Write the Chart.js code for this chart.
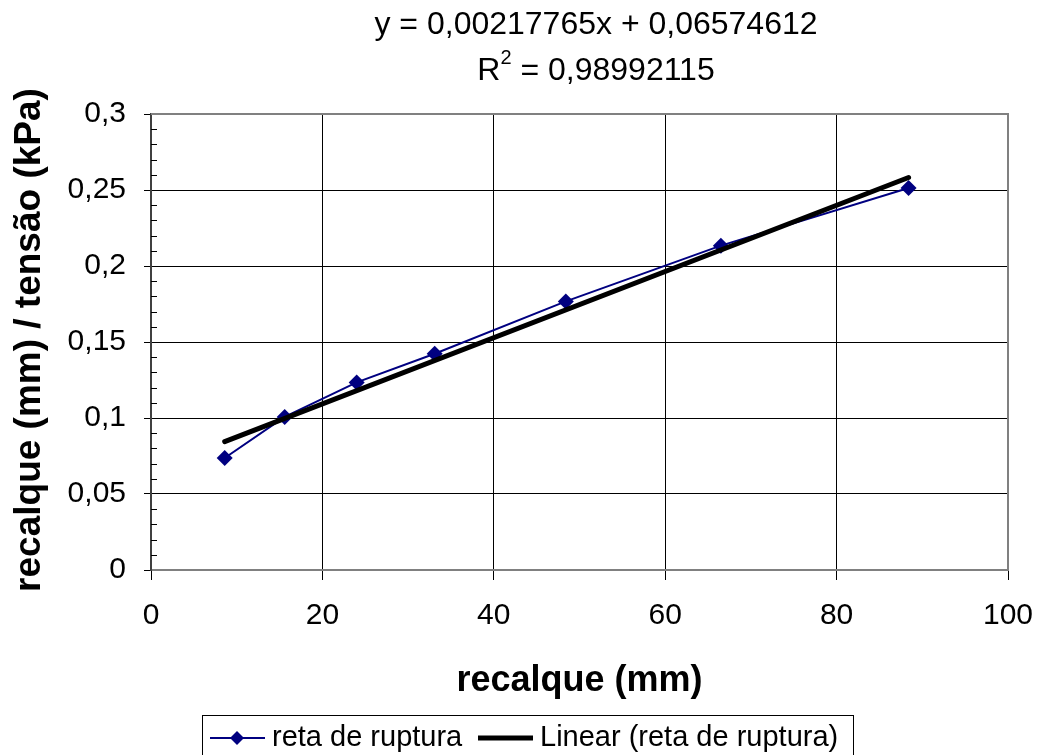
<!DOCTYPE html>
<html>
<head>
<meta charset="utf-8">
<script src="https://cdn.jsdelivr.net/npm/chart.js@4/dist/chart.umd.min.js"></script>
<style>
  html, body { margin: 0; padding: 0; background: #fff; }
  #wrap { width: 1038px; height: 755px; position: relative; }
</style>
</head>
<body>
<div id="wrap"><canvas id="chart" width="1038" height="755"></canvas></div>
<script>
// data
const recalque = [8.6, 15.6, 24.0, 33.1, 48.4, 66.5, 88.4];
const razao = [0.0737, 0.1007, 0.1234, 0.1423, 0.1767, 0.2134, 0.2513];
const xTicks = [0, 20, 40, 60, 80, 100];
const yTicks = [0, 0.05, 0.1, 0.15, 0.2, 0.25, 0.3];
const slope = 0.00217765;
const intercept = 0.06574612;
const equationText = 'y = 0,00217765x + 0,06574612';
const r2Text = ' = 0,98992115';
const seriesName = 'reta de ruptura';
const trendName = 'Linear (reta de ruptura)';

const FONT = '"Liberation Sans", Arial, sans-serif';

const points = recalque.map((x, i) => ({ x: x, y: razao[i] }));
const xMin = Math.min(...recalque), xMax = Math.max(...recalque);
const trend = [
    { x: xMin, y: slope * xMin + intercept },
    { x: xMax, y: slope * xMax + intercept }
];

function fmt(v) {
    return String(Math.round(v * 100) / 100).replace('.', ',');
}

// frame, minor ticks, equation, axis titles and legend
const decorations = {
    id: 'decorations',
    afterDraw(chart) {
        const ctx = chart.ctx;
        const a = chart.chartArea;
        const ys = chart.scales.y;
        ctx.save();

        // top / right frame
        ctx.strokeStyle = '#808080';
        ctx.lineWidth = 2;
        ctx.beginPath();
        ctx.moveTo(a.left, a.top);
        ctx.lineTo(a.right, a.top);
        ctx.lineTo(a.right, a.bottom);
        ctx.stroke();

        // minor ticks on the y axis (inside)
        ctx.strokeStyle = '#000';
        ctx.lineWidth = 1;
        for (let i = 1; i < 30; i++) {
            if (i % 5 === 0) continue;
            const py = Math.round(ys.getPixelForValue(i / 100)) + 0.5;
            ctx.beginPath();
            ctx.moveTo(a.left, py);
            ctx.lineTo(a.left + 6, py);
            ctx.stroke();
        }

        // equation
        ctx.fillStyle = '#000';
        ctx.font = '32px ' + FONT;
        ctx.textAlign = 'center';
        ctx.textBaseline = 'middle';
        const cx = 596;
        ctx.fillText(equationText, cx, 25);
        const rW = ctx.measureText('R').width;
        const restW = ctx.measureText(r2Text).width;
        ctx.font = '20px ' + FONT;
        const supW = ctx.measureText('2').width;
        const total = rW + supW + restW;
        let sx = cx - total / 2;
        ctx.textAlign = 'left';
        ctx.font = '32px ' + FONT;
        ctx.fillText('R', sx, 71);
        ctx.font = '20px ' + FONT;
        ctx.fillText('2', sx + rW, 58);
        ctx.font = '32px ' + FONT;
        ctx.fillText(r2Text, sx + rW + supW, 71);

        // axis titles
        ctx.font = 'bold 36px ' + FONT;
        ctx.textAlign = 'center';
        ctx.fillText('recalque (mm)', (a.left + a.right) / 2, 681);
        ctx.save();
        ctx.translate(30, (a.top + a.bottom) / 2 - 2);
        ctx.rotate(-Math.PI / 2);
        ctx.font = 'bold 37px ' + FONT;
        ctx.fillText('recalque (mm) / tensão (kPa)', 0, 0);
        ctx.restore();

        // legend
        ctx.strokeStyle = '#000';
        ctx.lineWidth = 1;
        ctx.strokeRect(202.5, 715.5, 651, 50);
        const ly = 738;
        const ds0 = chart.data.datasets[1];
        ctx.strokeStyle = ds0.borderColor;
        ctx.lineWidth = 2;
        ctx.beginPath();
        ctx.moveTo(210, ly);
        ctx.lineTo(265, ly);
        ctx.stroke();
        ctx.fillStyle = ds0.pointBackgroundColor;
        ctx.beginPath();
        ctx.moveTo(237, ly - 7);
        ctx.lineTo(244, ly);
        ctx.lineTo(237, ly + 7);
        ctx.lineTo(230, ly);
        ctx.closePath();
        ctx.fill();
        ctx.fillStyle = '#000';
        ctx.font = '29px ' + FONT;
        ctx.textAlign = 'left';
        ctx.fillText(seriesName, 272, ly);
        ctx.strokeStyle = '#000';
        ctx.lineWidth = 5;
        ctx.beginPath();
        ctx.moveTo(478, ly);
        ctx.lineTo(533, ly);
        ctx.stroke();
        ctx.fillText(trendName, 540, ly);

        ctx.restore();
    }
};

const ctx = document.getElementById('chart').getContext('2d');
const chart = new Chart(ctx, {
    type: 'scatter',
    data: {
        datasets: [{
            label: trendName,
            data: trend,
            showLine: true,
            borderColor: '#000000',
            borderWidth: 5,
            borderCapStyle: 'round',
            pointRadius: 0,
            order: 1
        }, {
            label: seriesName,
            data: points,
            showLine: true,
            borderColor: '#000080',
            borderWidth: 2,
            pointStyle: 'rectRot',
            pointRadius: 8,
            pointBackgroundColor: '#000080',
            pointBorderColor: '#000080',
            pointBorderWidth: 0,
            order: 2
        }]
    },
    options: {
        responsive: false,
        animation: false,
        layout: { padding: { left: 0, top: 114, right: 30, bottom: 0 } },
        plugins: {
            legend: { display: false },
            title: { display: false },
            tooltip: { enabled: false }
        },
        scales: {
            x: {
                type: 'linear',
                min: xTicks[0],
                max: xTicks[xTicks.length - 1],
                afterBuildTicks: (s) => { s.ticks = xTicks.map(v => ({ value: v })); },
                afterFit: (s) => { s.height = 185; s.paddingLeft = 0; s.paddingRight = 0; },
                grid: {
                    color: '#000',
                    lineWidth: 1,
                    tickLength: 10,
                    drawTicks: true
                },
                border: { color: '#808080', width: 2 },
                ticks: {
                    padding: 18,
                    color: '#000',
                    font: { family: FONT, size: 30 },
                    callback: (v) => fmt(v)
                }
            },
            y: {
                type: 'linear',
                min: yTicks[0],
                max: yTicks[yTicks.length - 1],
                afterBuildTicks: (s) => { s.ticks = yTicks.map(v => ({ value: v })); },
                afterFit: (s) => { s.width = 151; s.paddingTop = 0; s.paddingBottom = 0; },
                grid: {
                    color: '#000',
                    lineWidth: 1,
                    tickLength: 7
                },
                border: { color: '#404040', width: 2 },
                ticks: {
                    padding: 18,
                    color: '#000',
                    font: { family: FONT, size: 30 },
                    callback: (v) => fmt(v)
                }
            }
        }
    },
    plugins: [decorations]
});
</script>
</body>
</html>
